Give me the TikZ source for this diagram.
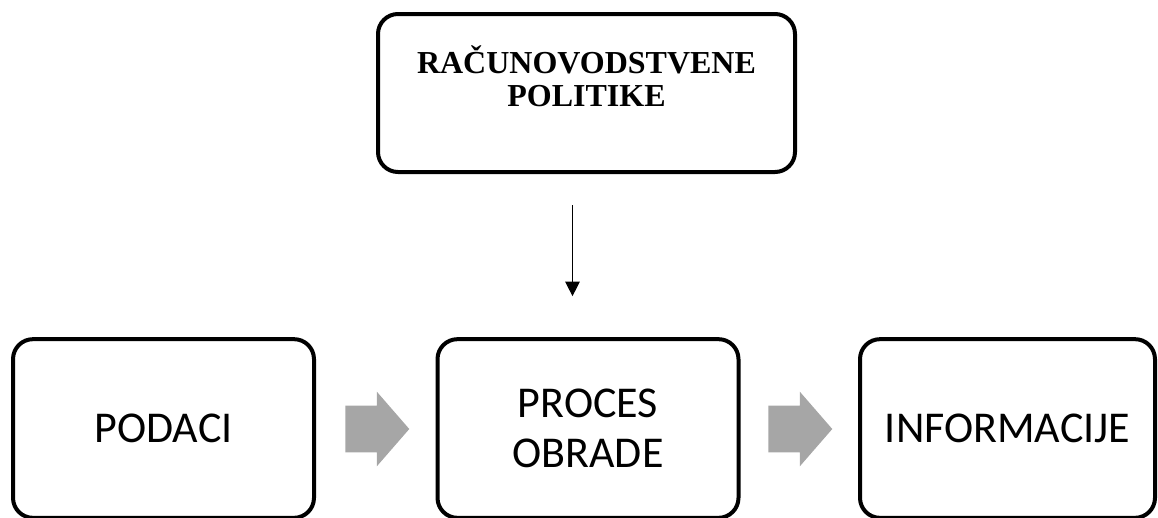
\documentclass[tikz,border=0pt]{standalone}
\usepackage{fontspec}
\setmainfont{Liberation Serif}
\newfontfamily\calibrifont{Carlito}
\usepackage{tikz}
\usetikzlibrary{shapes.arrows, arrows.meta, positioning}
\tikzset{>={Triangle[width=11pt, length=11pt]}}

\begin{document}
\begin{tikzpicture}[
  x=0.75pt, y=-0.75pt,
  policybox/.style={rectangle, draw, line width=3pt, rounded corners=15pt, minimum width=312.75pt, minimum height=118.5pt, align=center, font=\fontsize{24}{24.75}\selectfont\bfseries, inner sep=0pt},
  stagebox/.style={rectangle, draw, line width=3pt, rounded corners=15pt, minimum width=225.75pt, minimum height=134pt, align=center, font=\calibrifont\fontsize{33}{37}\selectfont, inner sep=0pt},
  flowarrow/.style={single arrow, fill=black!35, draw=none, minimum height=48pt, inner xsep=0pt, inner ysep=17.25pt, single arrow head extend=10.5pt, single arrow tip angle=98, anchor=tail},
  ruleline/.style={->, line width=0.75pt}
]

\useasboundingbox (0,0) rectangle (1158,518);

% Accounting policies (top box)
\node[policybox] (pol) at (586.5,93) {RAČUNOVODSTVENE\\POLITIKE\\~};

% Processing chain
\node[stagebox] (pod) at (163.5,428.5) {PODACI};
\node[stagebox] (proc) at (588,428.5) {PROCES\\OBRADE};
\node[stagebox, minimum width=221.25pt] (info) at (1007.5,428.5) {INFORMACIJE};

% Gray block arrows between stages
\node[flowarrow] (arr1) at (345,429) {};
\node[flowarrow] (arr2) at (768,429) {};

% Policies feed the process
\draw[ruleline, shorten <=23.25pt, shorten >=30.75pt] ([xshift=-10.5pt]pol.south) -- ([xshift=-10.5pt]pol.south |- proc.north);

\end{tikzpicture}
\end{document}
